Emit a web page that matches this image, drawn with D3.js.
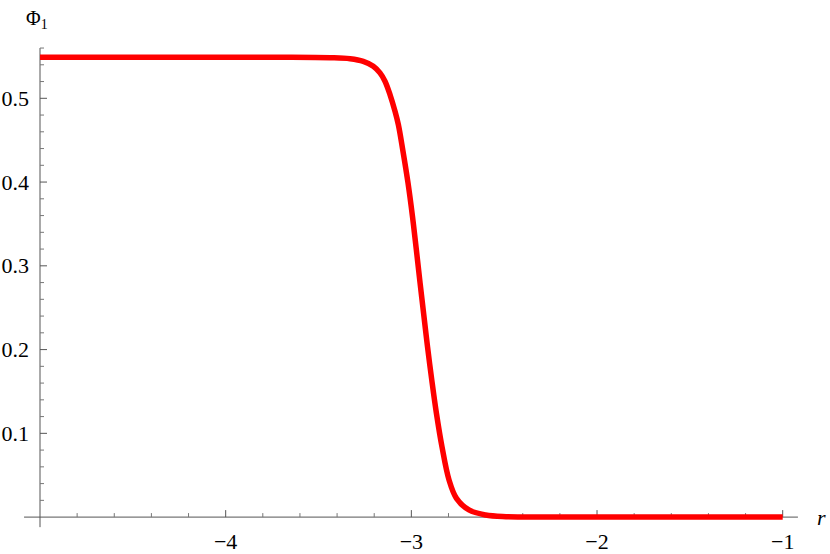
<!DOCTYPE html>
<html>
<head>
<meta charset="utf-8">
<script src="https://cdn.jsdelivr.net/npm/d3@7"></script>
<style>
  body { margin: 0; background: #fff; }
  svg text { font-family: "Liberation Serif", "Times New Roman", serif; }
</style>
</head>
<body>
<svg width="830" height="554"></svg>
<script>
// curve: r and Phi_1(r)
var rValues   = [-5, -4.5, -4, -3.7, -3.438, -3.33, -3.259, -3.205, -3.169, -3.142, -3.115, -3.088, -3.07, -3.046, -3.018, -2.994, -2.973, -2.953, -2.934, -2.913, -2.89, -2.865, -2.835, -2.797, -2.757, -2.69, -2.6, -2.49, -2.3, -2, -1.5, -1];
var phiValues = [0.549, 0.549, 0.549, 0.549, 0.5485, 0.5473, 0.5442, 0.5383, 0.5303, 0.5204, 0.5044, 0.4845, 0.4685, 0.438, 0.399, 0.359, 0.319, 0.2795, 0.2433, 0.2035, 0.1637, 0.124, 0.084, 0.0443, 0.0224, 0.0085, 0.0025, 0.0005, 0, 0, 0, 0];

var xMajor = [-4, -3, -2, -1];
var yMajor = [0.1, 0.2, 0.3, 0.4, 0.5];

var svg = d3.select("svg");

var x = d3.scaleLinear().domain([-5, -1]).range([40, 782.7]);
var y = d3.scaleLinear().domain([0, 0.5]).range([517.1, 98.3]);

var axisColor = "#555";

// minor ticks
var xMinor = d3.range(-5, -0.99, 0.2).filter(function(v){ return Math.abs(v - Math.round(v)) > 1e-6; });
var yMinor = d3.range(0.02, 0.561, 0.02).filter(function(v){ return Math.abs(v*10 - Math.round(v*10)) > 1e-6; });

var axes = svg.append("g").attr("stroke", axisColor).attr("stroke-width", 1);

// x axis line
axes.append("line")
    .attr("x1", x(-5.086)).attr("x2", x(-0.918))
    .attr("y1", y(0)).attr("y2", y(0));
// y axis line
axes.append("line")
    .attr("x1", x(-5)).attr("x2", x(-5))
    .attr("y1", y(-0.012)).attr("y2", y(0.56));

axes.selectAll(".xmaj").data(xMajor).enter().append("line")
    .attr("x1", d => x(d)).attr("x2", d => x(d))
    .attr("y1", y(0)).attr("y2", y(0) - 7);
axes.selectAll(".xmin").data(xMinor).enter().append("line")
    .attr("stroke", "#777")
    .attr("x1", d => x(d)).attr("x2", d => x(d))
    .attr("y1", y(0)).attr("y2", y(0) - 4);
axes.selectAll(".ymaj").data(yMajor).enter().append("line")
    .attr("x1", x(-5)).attr("x2", x(-5) + 7)
    .attr("y1", d => y(d)).attr("y2", d => y(d));
axes.selectAll(".ymin").data(yMinor).enter().append("line")
    .attr("stroke", "#777")
    .attr("x1", x(-5)).attr("x2", x(-5) + 4)
    .attr("y1", d => y(d)).attr("y2", d => y(d));

// tick labels
svg.selectAll(".xl").data(xMajor).enter().append("text")
    .attr("x", d => x(d)).attr("y", 549)
    .attr("text-anchor", "middle")
    .attr("font-size", 22)
    .text(d => "\u2212" + Math.abs(d));
svg.selectAll(".yl").data(yMajor).enter().append("text")
    .attr("x", 29).attr("y", d => y(d) + 7.5)
    .attr("text-anchor", "end")
    .attr("font-size", 22)
    .text(d => d3.format(".1f")(d));

// axis labels
var phiLab = svg.append("text").attr("x", 26).attr("y", 25)
    .attr("font-size", 20);
phiLab.append("tspan").text("\u03A6");
phiLab.append("tspan").attr("dy", 4).attr("font-size", 14).text("1");
svg.append("text").attr("x", 817).attr("y", 525)
    .attr("font-size", 22)
    .attr("font-style", "italic").text("r");

// the curve
var line = d3.line()
    .x(function(d, i){ return x(rValues[i]); })
    .y(function(d){ return y(d); })
    .curve(d3.curveCatmullRom.alpha(0.5));

svg.append("path")
    .datum(phiValues)
    .attr("fill", "none")
    .attr("stroke", "#ff0000")
    .attr("stroke-width", 5.5)
    .attr("stroke-linejoin", "round")
    .attr("d", line);
</script>
</body>
</html>
